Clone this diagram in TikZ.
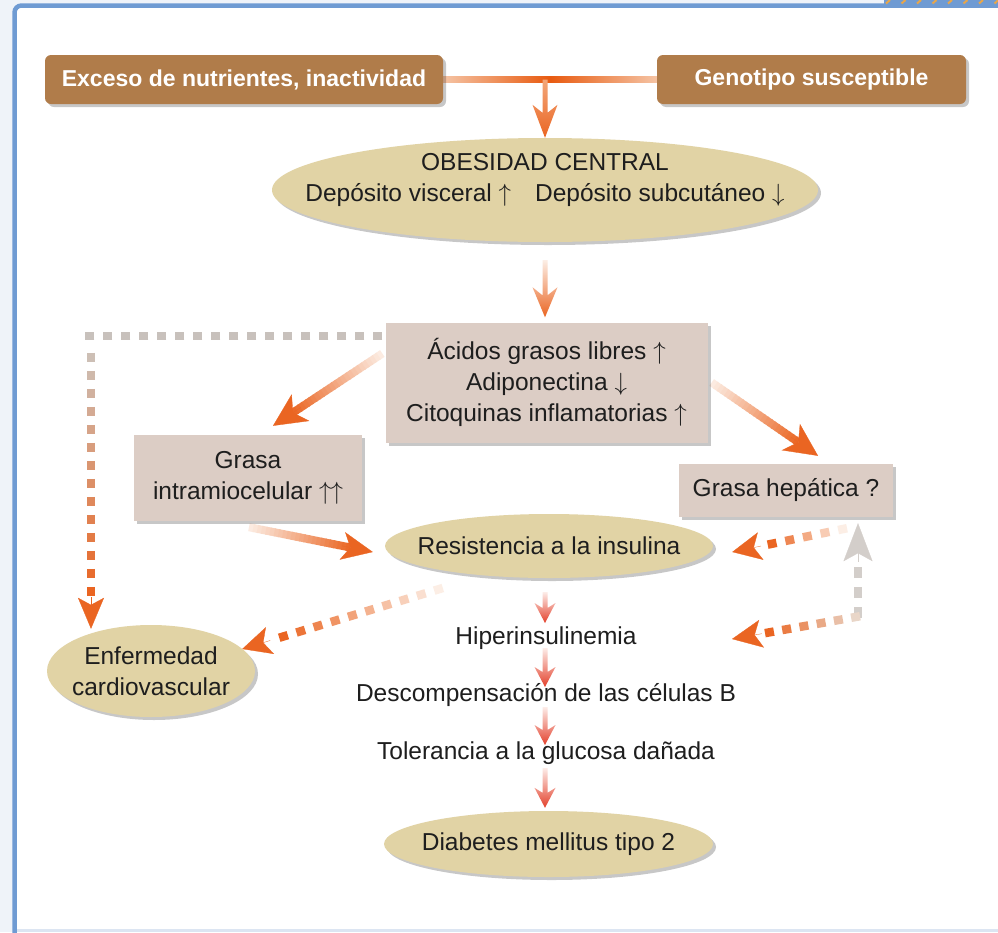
\documentclass[tikz,border=0pt]{standalone}
\usepackage{fontspec}
\setmainfont{Liberation Sans}
\usetikzlibrary{calc,shapes.geometric,shadows,arrows.meta}
\pgfdeclarelayer{bg}
\pgfdeclarelayer{conn}
\pgfsetlayers{bg,conn,main}
\definecolor{cBgOut}{HTML}{EFF3F9}
\definecolor{cFrame}{HTML}{6F9BD3}
\definecolor{cFrameLight}{HTML}{DCE5F2}
\definecolor{cHatch}{HTML}{E8A64A}
\definecolor{cBrown}{HTML}{B07C4A}
\definecolor{cTan}{HTML}{E1D3A5}
\definecolor{cPink}{HTML}{DCCDC5}
\definecolor{cTxt}{HTML}{1E1E1E}
\definecolor{cOr}{HTML}{EA6522}
\definecolor{cOrDark}{HTML}{E85A10}
\definecolor{cOrPale}{HTML}{FCEEE5}
\definecolor{cOrLight}{HTML}{F5C4A4}
\definecolor{cPeach}{HTML}{F3A77A}
\definecolor{cRed}{HTML}{E3402B}
\definecolor{cRedPale}{HTML}{FDECE8}
\definecolor{cGrayD}{HTML}{C8C1BC}
\definecolor{cGrayTan}{HTML}{CDBFB5}
\definecolor{cGrayA}{HTML}{D3CECA}
\definecolor{cTanDot}{HTML}{E9D6C8}
\newcommand{\fnorm}{\fontsize{24.5pt}{31pt}\selectfont}
\newcommand{\fhead}{\fontsize{23pt}{28pt}\selectfont\bfseries}
\newcommand{\up}{\ensuremath{\uparrow}}
\newcommand{\dn}{\ensuremath{\downarrow}}
% gradient line in n segments
\newcommand{\gradseg}[6]{%
  \foreach \i in {1,...,#6}{%
    \pgfmathsetmacro{\ta}{(\i-1)/#6}%
    \pgfmathsetmacro{\tb}{min(1,(\i+0.3)/#6)}%
    \pgfmathtruncatemacro{\pc}{100*(\i-0.5)/#6}%
    \draw[line width=#5, color=#4!\pc!#3] ($(#1)!\ta!(#2)$) -- ($(#1)!\tb!(#2)$);
  }}
% square dots with colour gradient
\newcommand{\dotseg}[7]{%
  \foreach \i in {1,...,#5}{%
    \pgfmathsetmacro{\da}{(\i-1)*#6}%
    \pgfmathsetmacro{\db}{(\i-1)*#6+#7}%
    \pgfmathtruncatemacro{\pc}{100*(\i-1)/max(#5-1,1)}%
    \draw[line width=8.5pt, color=#4!\pc!#3] ($(#1)!\da pt!(#2)$) -- ($(#1)!\db pt!(#2)$);
  }}
% arrow head at #2 coming from #1
\newcommand{\arrhead}[6]{%
  \draw[#3, line width=0.3pt, -{Stealth[length=#4, width=#5, inset=#6]}] ($(#2)!#4+0.4pt!(#1)$) -- (#2);}
% vertical shaded arrow
\newcommand{\vsarrow}[8]{%
  \shade[top color=#3, bottom color=#4] ($(#1)+(-#5,0)$) -- ($(#2)+(-#5,-#7+#8)$) -- ($(#2)+(-#6,-#7)$) -- (#2) -- ($(#2)+(#6,-#7)$) -- ($(#2)+(#5,-#7+#8)$) -- ($(#1)+(#5,0)$) -- cycle;}
\tikzset{
  shad/.style={drop shadow={shadow xshift=3pt, shadow yshift=-3pt, fill=black, opacity=0.22}},
  headbox/.style={rectangle, rounded corners=6pt, fill=cBrown, text=white, font=\fhead, minimum height=49pt, inner sep=0pt, shad},
  infobox/.style={rectangle, fill=cPink, align=center, inner sep=0pt, shad},
  tanell/.style={ellipse, fill=cTan, inner sep=0pt, shad},
  txtnode/.style={inner sep=0pt},
}
\begin{document}
\begin{tikzpicture}[x=1pt,y=-1pt,font=\fnorm, every node/.append style={text=cTxt}]
\useasboundingbox (0,0) rectangle (998,932);
\begin{pgfonlayer}{bg}
  \fill[cBgOut] (0,0) rectangle (998,932);
  \draw[cFrame, line width=4.5pt, fill=white, rounded corners=7pt] (14.5,5.5) rectangle (1040,1000);
  \fill[cFrameLight] (16.8,928.5) rectangle (998,932);
  \fill[cFrame] (884,0) rectangle (998,4);
  \foreach \hx in {886,901.5,...,998}{\draw[cHatch, line width=2pt] (\hx,3.5) -- (\hx+4,0);}
\end{pgfonlayer}

% nodes
\node[headbox, minimum width=398pt] (exc) at (244,79.5) {Exceso de nutrientes, inactividad};
\node[headbox, minimum width=309pt] (gen) at (811.5,79.5) {Genotipo susceptible};
\node[tanell, minimum width=546pt, minimum height=104pt,
  label={[align=center, yshift=10pt]center:OBESIDAD CENTRAL\\Depósito visceral \up\hspace{24pt}Depósito subcutáneo \dn}] (obes) at (545,190) {};
\node[infobox, minimum width=322pt, minimum height=120pt] (acid) at (546.5,382.5) {Ácidos grasos libres \up\\Adiponectina \dn\\Citoquinas inflamatorias \up};
\node[infobox, minimum width=228pt, minimum height=86pt] (gri) at (248,478) {Grasa\\intramiocelular \up\kern-1pt\up};
\node[infobox, minimum width=214pt, minimum height=53pt] (grh) at (786,490.5) {Grasa hepática ?};
\node[tanell, minimum width=328pt, minimum height=64pt, label={center:Resistencia a la insulina}] (res) at (549,546) {};
\node[tanell, minimum width=208pt, minimum height=92pt, label={[align=center]center:Enfermedad\\cardiovascular}] (enf) at (151,671) {};
\node[txtnode] (hip) at (546,638) {Hiperinsulinemia};
\node[txtnode] (des) at (546,695) {Descompensación de las células B};
\node[txtnode] (tol) at (546,753) {Tolerancia a la glucosa dañada};
\node[tanell, minimum width=329pt, minimum height=66pt, label={center:Diabetes mellitus tipo 2}] (dia) at (548.5,844) {};

\begin{pgfonlayer}{conn}
  % top bar and arrow to obesity
  \shade[left color=cOrLight, right color=cOrLight, middle color=cOrDark] ($(exc.east)+(0,-3)$) rectangle ($(gen.west)+(0,3)$);
  \coordinate (a1s) at (obes.north |- exc.east);
  \vsarrow{a1s}{obes.north}{cPeach}{cOr}{2.5}{12.5}{33}{8}
  % obesity -> acids
  \coordinate (a2s) at ($(obes.south)+(0,18)$);
  \coordinate (a2e) at ($(a2s |- acid.north)+(0,-5)$);
  \vsarrow{a2s}{a2e}{cOrPale}{cOr}{2.5}{12.5}{30}{8}
  % acids -> grasa intramiocelular
  \coordinate (a3s) at ($(acid.west)+(-3,-29)$);
  \coordinate (a3e) at ($(gri.north)+(25,-9)$);
  \coordinate (a3h) at ($(a3e)!24pt!(a3s)$);
  \gradseg{a3s}{a3h}{cOrPale}{cOr}{8pt}{24}
  \arrhead{a3s}{a3e}{cOr}{33pt}{32pt}{9pt}
  % acids -> grasa hepatica
  \coordinate (a4s) at ($(acid.east)+(4,0)$);
  \coordinate (a4e) at ($(grh.north)+(32,-8)$);
  \coordinate (a4h) at ($(a4e)!24pt!(a4s)$);
  \gradseg{a4s}{a4h}{cOrPale}{cOr}{8pt}{24}
  \arrhead{a4s}{a4e}{cOr}{33pt}{32pt}{9pt}
  % grasa intramiocelular -> resistencia
  \coordinate (a5s) at ($(gri.south)+(1,6)$);
  \coordinate (a5e) at ($(res.west)+(-12,6)$);
  \coordinate (a5h) at ($(a5e)!23pt!(a5s)$);
  \gradseg{a5s}{a5h}{cOrPale}{cOr}{8pt}{24}
  \arrhead{a5s}{a5e}{cOr}{31pt}{28pt}{8pt}
  % dotted acids -> enfermedad
  \coordinate (d1s) at ($(acid.north west)+(-3,13.5)$);
  \coordinate (d1e) at ($(enf.north)+(-60,4)$);
  \coordinate (d1k) at (d1e |- d1s);
  \coordinate (d1v) at ($(d1k)+(0,17)$);
  \coordinate (d1h) at ($(d1e)+(0,-30)$);
  \dotseg{d1s}{d1k}{cGrayD}{cGrayD}{17}{18}{9}
  \dotseg{d1v}{d1h}{cGrayTan}{cOr}{14}{18}{9}
  \arrhead{d1k}{d1e}{cOr}{31pt}{26pt}{7pt}
  % dotted resistencia -> enfermedad
  \coordinate (d2s) at ($(res.west)+(58,42)$);
  \coordinate (d2e) at ($(enf.east)+(-13,-22)$);
  \dotseg{d2s}{d2e}{cOrPale}{cOr}{10}{18}{9}
  \arrhead{d2s}{d2e}{cOr}{29pt}{28pt}{7pt}
  % dotted grasa hepatica -> resistencia
  \coordinate (d3s) at ($(grh.south)+(61,11)$);
  \coordinate (d3e) at ($(res.east)+(19,6)$);
  \dotseg{d3s}{d3e}{cOrPale}{cOr}{5}{18}{9}
  \arrhead{d3s}{d3e}{cOr}{29pt}{28pt}{7pt}
  % gray dotted up to grasa hepatica
  \coordinate (d4s) at ($(grh.south)+(72,101)$);
  \coordinate (d4e) at ($(grh.south)+(72,6)$);
  \dotseg{d4s}{d4e}{cGrayA}{cGrayA}{3}{20}{11}
  \arrhead{d4s}{d4e}{cGrayA}{38pt}{29pt}{8pt}
  % dotted to hiperinsulinemia
  \coordinate (d5s) at ($(grh.south)+(74,99)$);
  \coordinate (d5e) at ($(hip.center)+(186,1)$);
  \dotseg{d5s}{d5e}{cTanDot}{cOr}{6}{17.5}{9}
  \arrhead{d5s}{d5e}{cOr}{30pt}{28pt}{7pt}
  % red chain
  \coordinate (c1s) at ($(res.south)+(-4,14)$);
  \coordinate (c1e) at ($(c1s |- hip.center)+(0,-15)$);
  \vsarrow{c1s}{c1e}{cRedPale}{cRed}{2.5}{10.5}{20}{5}
  \coordinate (c2s) at ($(c1s |- hip.center)+(0,10)$);
  \coordinate (c2e) at ($(c1s |- des.center)+(0,-8)$);
  \vsarrow{c2s}{c2e}{cRedPale}{cRed}{2.5}{10.5}{20}{5}
  \coordinate (c3s) at ($(c1s |- des.center)+(0,12)$);
  \coordinate (c3e) at ($(c1s |- tol.center)+(0,-8)$);
  \vsarrow{c3s}{c3e}{cRedPale}{cRed}{2.5}{10.5}{20}{5}
  \coordinate (c4s) at ($(c1s |- tol.center)+(0,15)$);
  \coordinate (c4e) at ($(c1s |- dia.north)+(0,-3)$);
  \vsarrow{c4s}{c4e}{cRedPale}{cRed}{2.5}{10.5}{20}{5}
\end{pgfonlayer}
\end{tikzpicture}
\end{document}
